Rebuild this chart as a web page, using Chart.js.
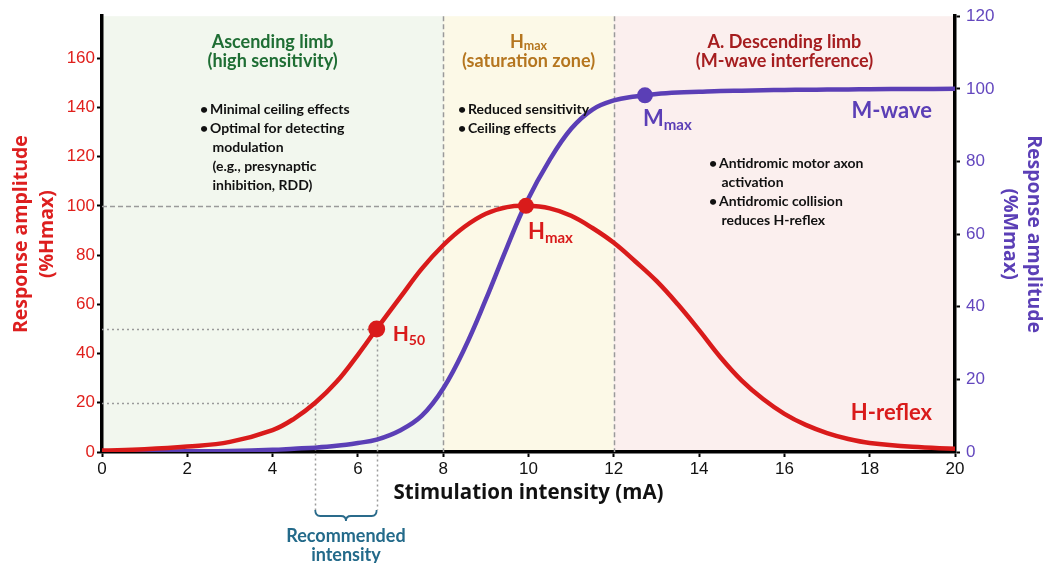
<!DOCTYPE html>
<html><head><meta charset="utf-8">
<script src="https://cdn.jsdelivr.net/npm/chart.js@4.4.1/dist/chart.umd.min.js"></script>
<style>html,body{margin:0;padding:0;background:#fff;}canvas{display:block;}</style>
</head><body>
<canvas id="c" width="1046" height="563"></canvas>
<script>
// ---- data ----
const intensity = [0,1,2,3,4,4.5,5,5.5,6,6.44,7,7.5,8,8.5,9,9.5,9.94,10.5,11,11.5,12,12.5,13,13.5,14,14.5,15,15.5,16,16.5,17,17.5,18,19,20];
const hReflex   = [0.6,1.1,2.2,4.1,8.9,13.5,20,28.5,39.5,50,63,74.5,84,91.5,96.8,99.5,100,99,96,91,85,77.5,69.5,60,49.5,38.5,29,21.5,15.5,11,7.7,5.3,3.7,2.1,1.3];
const mWave     = [0.1,0.1,0.2,0.3,0.6,0.9,1.2,1.7,2.5,3.4,6,10,17.5,28.5,42,56.5,68.5,80.5,89,94.3,96.8,97.9,98.6,99,99.2,99.4,99.5,99.6,99.7,99.75,99.8,99.85,99.9,99.95,100];
const xTicks = [0,2,4,6,8,10,12,14,16,18,20];
const leftTicks = [0,20,40,60,80,100,120,140,160];
const rightTicks = [0,20,40,60,80,100,120];
const zoneEdges = [0, 8, 12, 20];
const h50Point = [6.44, 50];
const hmaxPoint = [9.94, 100];
const mmaxPoint = [12.73, 98.2];
const recommendedRange = [5, 6.44];
const recommendedLevels = [20, 50];
const zoneBullets = [
  [['• ','Minimal ceiling effects'],['• ','Optimal for detecting'],['','modulation'],['','(e.g., presynaptic'],['','inhibition, RDD)']],
  [['• ','Reduced sensitivity'],['• ','Ceiling effects']],
  [['• ','Antidromic motor axon'],['','activation'],['• ','Antidromic collision'],['','reduces H-reflex']]
];

const RED = '#d91b1b', PURPLE = '#5b3fb6';
const TF = 'Lato, "Open Sans", sans-serif';
const OF = '"Open Sans", Lato, sans-serif';

function drawParts(ctx, parts, x, y, align) {
  let w = 0;
  parts.forEach(p => { ctx.font = p.font; w += ctx.measureText(p.t).width; });
  let sx = align === 'center' ? x - w/2 : (align === 'right' ? x - w : x);
  ctx.textAlign = 'left'; ctx.textBaseline = 'alphabetic';
  parts.forEach(p => { ctx.font = p.font; ctx.fillStyle = p.color; ctx.fillText(p.t, sx, y + (p.dy||0)); sx += ctx.measureText(p.t).width; });
}

const decor = {
  id: 'decor',
  beforeDraw(chart) {
    const {ctx, chartArea: a, scales: {x}} = chart;
    const fills = ['#f2f7ee', '#fcf9e7', '#fbefee'];
    ctx.save();
    for (let i = 0; i < 3; i++) {
      const x0 = x.getPixelForValue(zoneEdges[i]), x1 = x.getPixelForValue(zoneEdges[i+1]);
      ctx.fillStyle = fills[i];
      ctx.fillRect(x0, a.top, x1 - x0, a.bottom - a.top);
    }
    ctx.restore();
  },
  beforeDatasetsDraw(chart) {
    const {ctx, chartArea: a, scales: {x, y}} = chart;
    ctx.save();
    ctx.strokeStyle = '#9a9a9a'; ctx.lineWidth = 1.5;
    ctx.setLineDash([5, 3]);
    [zoneEdges[1], zoneEdges[2]].forEach(v => {
      const px = Math.round(x.getPixelForValue(v)) + 0.5;
      ctx.beginPath(); ctx.moveTo(px, a.top); ctx.lineTo(px, a.bottom); ctx.stroke();
    });
    const hy = Math.round(y.getPixelForValue(hmaxPoint[1])) + 0.5;
    ctx.beginPath(); ctx.moveTo(a.left, hy); ctx.lineTo(x.getPixelForValue(hmaxPoint[0]), hy); ctx.stroke();
    ctx.setLineDash([2, 3]);
    const braceTop = 510;
    for (let i = 0; i < 2; i++) {
      const px = Math.round(x.getPixelForValue(recommendedRange[i])) + 0.5;
      const py = Math.round(y.getPixelForValue(recommendedLevels[i])) + 0.5;
      ctx.beginPath(); ctx.moveTo(a.left, py); ctx.lineTo(px, py); ctx.stroke();
      ctx.beginPath(); ctx.moveTo(px, py); ctx.lineTo(px, braceTop); ctx.stroke();
    }
    ctx.setLineDash([]);
    const x1 = x.getPixelForValue(recommendedRange[0]), x2 = x.getPixelForValue(recommendedRange[1]);
    const mid = (x1 + x2) / 2, y0 = braceTop, y1 = 516, y2 = 521, r = 5;
    ctx.strokeStyle = '#2a6b8b'; ctx.lineWidth = 1.8;
    ctx.beginPath();
    ctx.moveTo(x1, y0); ctx.quadraticCurveTo(x1, y1, x1 + r, y1); ctx.lineTo(mid - r, y1);
    ctx.quadraticCurveTo(mid, y1, mid, y2); ctx.quadraticCurveTo(mid, y1, mid + r, y1);
    ctx.lineTo(x2 - r, y1); ctx.quadraticCurveTo(x2, y1, x2, y0);
    ctx.stroke();
    ctx.fillStyle = '#236a8a'; ctx.font = 'bold 18px ' + TF; ctx.textAlign = 'center'; ctx.textBaseline = 'alphabetic';
    ctx.fillText('Recommended', mid, 542);
    ctx.fillText('intensity', mid, 561);
    ctx.restore();
  },
  afterDraw(chart) {
    const {ctx, scales: {x, y, y2}} = chart;
    ctx.save();
    const c = i => (x.getPixelForValue(zoneEdges[i]) + x.getPixelForValue(zoneEdges[i+1])) / 2;
    const f17 = 'bold 18px ' + TF, f12 = 'bold 12.5px ' + TF;
    drawParts(ctx, [{t:'Ascending limb', font:f17, color:'#1f6e34'}], c(0), 48, 'center');
    drawParts(ctx, [{t:'(high sensitivity)', font:f17, color:'#1f6e34'}], c(0), 67, 'center');
    drawParts(ctx, [{t:'H', font:f17, color:'#b5761f'},{t:'max', font:f12, color:'#b5761f', dy:2}], c(1), 48, 'center');
    drawParts(ctx, [{t:'(saturation zone)', font:f17, color:'#b5761f'}], c(1), 67, 'center');
    drawParts(ctx, [{t:'A. Descending limb', font:f17, color:'#a51d1f'}], c(2), 48, 'center');
    drawParts(ctx, [{t:'(M-wave interference)', font:f17, color:'#a51d1f'}], c(2), 67, 'center');
    const bf = 'bold 14px ' + TF;
    const starts = [[200, 114], [458, 114], [709, 168]];
    zoneBullets.forEach((lines, zi) => {
      const [bx, by] = starts[zi];
      lines.forEach((ln, li) => {
        ctx.font = bf; ctx.fillStyle = '#111'; ctx.textAlign = 'left'; ctx.textBaseline = 'alphabetic';
        const yy = by + li * 19;
        if (ln[0]) { ctx.fillText('•', bx, yy); ctx.fillText(ln[1], bx + 10, yy); }
        else ctx.fillText(ln[1], bx + 12.5, yy);
      });
    });
    const f22 = 'bold 22px ' + TF, f15 = 'bold 15px ' + TF;
    drawParts(ctx, [{t:'H', font:'bold 21px ' + TF, color:RED},{t:'50', font:'bold 14px ' + TF, color:RED, dy:4}],
      x.getPixelForValue(h50Point[0]) + 16, y.getPixelForValue(h50Point[1]) + 12, 'left');
    drawParts(ctx, [{t:'H', font:f22, color:RED},{t:'max', font:f15, color:RED, dy:4}],
      x.getPixelForValue(hmaxPoint[0]) + 2, y.getPixelForValue(hmaxPoint[1]) + 33, 'left');
    drawParts(ctx, [{t:'M', font:f22, color:PURPLE},{t:'max', font:f15, color:PURPLE, dy:4}],
      x.getPixelForValue(mmaxPoint[0]) - 2, y2.getPixelForValue(mmaxPoint[1]) + 31, 'left');
    drawParts(ctx, [{t:'M-wave', font:f22, color:PURPLE}], 932, 118, 'right');
    drawParts(ctx, [{t:'H-reflex', font:f22, color:RED}], 932, 420, 'right');
    ctx.restore();
  }
};

Chart.defaults.font.family = '"Liberation Sans", Arial, sans-serif';
new Chart(document.getElementById('c'), {
  type: 'line',
  data: {
    datasets: [
      { label: 'H50', data: [{x:h50Point[0], y:h50Point[1]}], yAxisID:'y', showLine:false, pointRadius:8.5, pointBackgroundColor:RED, pointBorderWidth:0, order:0 },
      { label: 'Hmax', data: [{x:hmaxPoint[0], y:hmaxPoint[1]}], yAxisID:'y', showLine:false, pointRadius:8, pointBackgroundColor:RED, pointBorderWidth:0, order:0 },
      { label: 'Mmax', data: [{x:mmaxPoint[0], y:mmaxPoint[1]}], yAxisID:'y2', showLine:false, pointRadius:8, pointBackgroundColor:PURPLE, pointBorderWidth:0, order:0 },
      { label: 'H-reflex', data: intensity.map((v,i)=>({x:v, y:hReflex[i]})), yAxisID:'y', borderColor:RED, borderWidth:4.5, pointRadius:0, tension:0.4, fill:false, order:1 },
      { label: 'M-wave', data: intensity.map((v,i)=>({x:v, y:mWave[i]})), yAxisID:'y2', borderColor:PURPLE, borderWidth:4.5, pointRadius:0, tension:0.4, fill:false, order:2 }
    ]
  },
  options: {
    responsive: false, animation: false,
    layout: { padding: { top: 16, left: 0, right: 0, bottom: 0 } },
    plugins: { legend: { display: false }, tooltip: { enabled: false } },
    scales: {
      x: {
        type: 'linear', min: 0, max: 20,
        afterBuildTicks: s => { s.ticks = xTicks.map(v => ({value: v})); },
        afterFit: s => { s.height = 111; },
        grid: { drawOnChartArea: false, tickLength: 5, tickWidth: 2, tickColor: '#000' },
        border: { color: '#000', width: 3.5 },
        ticks: { color: '#111', font: { size: 17 }, padding: 2, maxRotation: 0 },
        title: { display: true, text: 'Stimulation intensity (mA)', color: '#111', font: { family: OF, size: 20.5, weight: 'bold' }, padding: { top: 0, bottom: 58 } }
      },
      y: {
        position: 'left', min: 0, max: 177.06,
        afterBuildTicks: s => { s.ticks = leftTicks.map(v => ({value: v})); },
        afterFit: s => { s.width = 102; },
        grid: { drawOnChartArea: false, tickLength: 5, tickWidth: 2, tickColor: '#000' },
        border: { color: '#000', width: 3.5 },
        ticks: { color: '#e0201c', font: { size: 17 }, padding: 2 },
        title: { display: true, text: ['Response amplitude', '(%Hmax)'], color: '#dd1f1f', font: { family: OF, size: 19.5, weight: 'bold', lineHeight: 1.36 }, padding: { top: 8, bottom: 0 } }
      },
      y2: {
        position: 'right', min: 0, max: 120,
        afterBuildTicks: s => { s.ticks = rightTicks.map(v => ({value: v})); },
        afterFit: s => { s.width = 91; },
        grid: { drawOnChartArea: false, tickLength: 5, tickWidth: 2, tickColor: '#000' },
        border: { color: '#000', width: 3.5 },
        ticks: { color: '#6347be', font: { size: 17 }, padding: 6 },
        title: { display: true, text: ['Response amplitude', '(%Mmax)'], color: PURPLE, font: { family: OF, size: 19.5, weight: 'bold', lineHeight: 1.23 }, padding: { top: 0, bottom: 0 } }
      }
    }
  },
  plugins: [decor]
});
</script>
</body></html>
